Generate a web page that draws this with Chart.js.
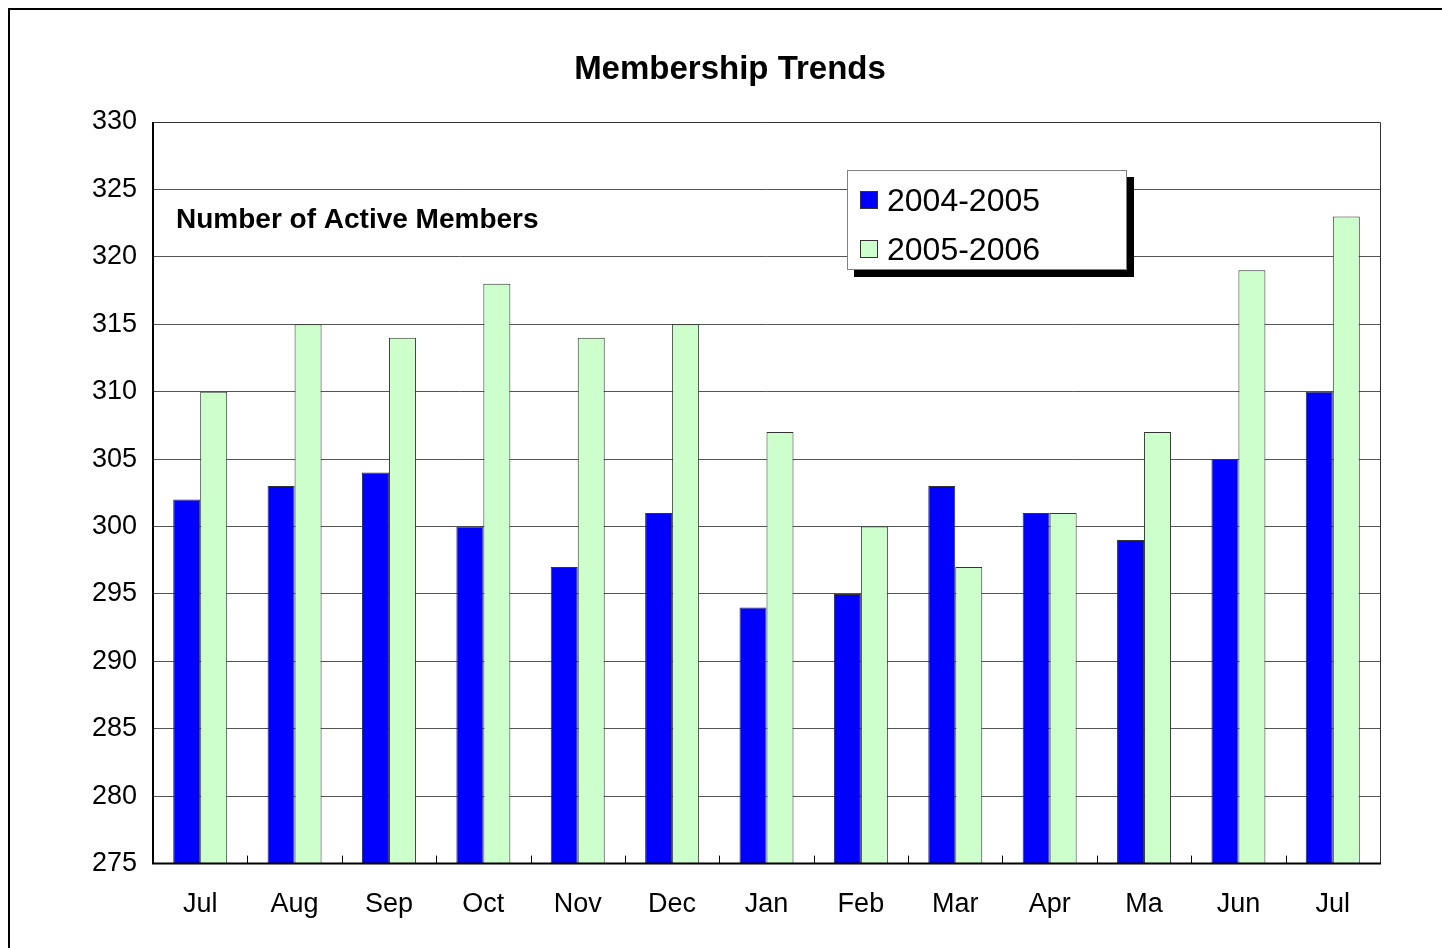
<!DOCTYPE html>
<html>
<head>
<meta charset="utf-8">
<title>Membership Trends</title>
<script src="https://cdn.jsdelivr.net/npm/chart.js@4/dist/chart.umd.min.js"></script>
<style>
  html, body { margin: 0; padding: 0; background: #fff; overflow: hidden; }
  #wrap { position: relative; width: 1442px; height: 948px; overflow: hidden; }
  #frame { position: absolute; left: 8px; top: 8px; width: 2000px; height: 2000px;
           border: 2px solid #000; pointer-events: none; }
  #box { position: absolute; left: 0; top: 0; width: 1460px; height: 948px; }
  #legend { position: absolute; left: 847px; top: 170px; width: 278px; height: 98px;
            background: #fff; border: 1px solid #808080; box-shadow: 7px 7px 0 #000;
            font-family: "Liberation Sans", Arial, sans-serif; font-size: 32px; color: #000; }
  #legend .row { position: absolute; left: 12px; height: 40px; line-height: 40px; white-space: nowrap; }
  #legend .sw { display: inline-block; width: 16px; height: 16px; border: 1px solid #333;
                vertical-align: middle; margin-right: 9px; position: relative; top: -3px; }
</style>
</head>
<body>
<div id="wrap">
  <div id="box"><canvas id="membersChart" width="1460" height="948"></canvas></div>
  <div id="legend"></div>
  <div id="frame"></div>
</div>
<script>
// month labels along the bottom (Jul 2004/05 through Jul 2005/06)
var months = ["Jul", "Aug", "Sep", "Oct", "Nov", "Dec", "Jan", "Feb", "Mar", "Apr", "Ma", "Jun", "Jul"];

// active members
var members0405 = [302, 303, 304, 300, 297, 301, 294, 295, 303, 301, 299, 305, 310];
var members0506 = [310, 315, 314, 318, 314, 315, 307, 300, 297, 301, 307, 319, 323];

var seriesNames = ["2004-2005", "2005-2006"];
var seriesColors = ["#0000ff", "#ccffcc"];

var yMin = 275, yMax = 330, yStep = 5;
var fontFamily = "'Liberation Sans', Arial, sans-serif";

// draws the plot frame, the small inward ticks on the x axis, the title and the inner caption
var framePlugin = {
  id: "framePlugin",
  afterDraw: function(chart) {
    var ctx = chart.ctx;
    var area = chart.chartArea;
    var xs = chart.scales.x;
    ctx.save();
    // top and right edges of the plot
    ctx.strokeStyle = "#333";
    ctx.lineWidth = 1;
    ctx.beginPath();
    ctx.moveTo(area.left, area.top + 0.5);
    ctx.lineTo(area.right + 0.5, area.top + 0.5);
    ctx.lineTo(area.right + 0.5, area.bottom);
    ctx.stroke();
    // left and bottom axis lines
    ctx.strokeStyle = "#000";
    ctx.lineWidth = 2;
    ctx.beginPath();
    ctx.moveTo(area.left, area.top);
    ctx.lineTo(area.left, area.bottom);
    ctx.lineTo(area.right + 1, area.bottom);
    ctx.stroke();
    // tick marks between the months, pointing up into the plot
    ctx.lineWidth = 1;
    ctx.beginPath();
    for (var i = 1; i < months.length; i++) {
      var x = Math.round((xs.getPixelForValue(i - 1) + xs.getPixelForValue(i)) / 2) + 0.5;
      ctx.moveTo(x, area.bottom);
      ctx.lineTo(x, area.bottom - 8);
    }
    ctx.stroke();
    // chart title
    ctx.fillStyle = "#000";
    ctx.textAlign = "center";
    ctx.textBaseline = "middle";
    ctx.font = "bold 33px " + fontFamily;
    ctx.fillText("Membership Trends", area.left + 577, area.top - 52);
    // caption inside the plot
    ctx.font = "bold 28px " + fontFamily;
    ctx.textAlign = "left";
    ctx.fillText("Number of Active Members", area.left + 23, area.top + 98);
    ctx.restore();
  }
};

var membersChart = new Chart(document.getElementById("membersChart"), {
  type: "bar",
  data: {
    labels: months,
    datasets: [{
      label: seriesNames[0],
      data: members0405,
      backgroundColor: seriesColors[0],
      borderColor: "#333",
      borderWidth: 1,
      borderSkipped: false
    }, {
      label: seriesNames[1],
      data: members0506,
      backgroundColor: seriesColors[1],
      borderColor: "#333",
      borderWidth: 1,
      borderSkipped: false
    }]
  },
  options: {
    responsive: false,
    animation: false,
    layout: { padding: { left: 10, right: 80, top: 122, bottom: 10 } },
    datasets: { bar: { categoryPercentage: 0.572, barPercentage: 1.0 } },
    scales: {
      x: {
        offset: true,
        grid: { display: false },
        border: { display: false },
        ticks: { color: "#000", font: { family: fontFamily, size: 27 }, padding: 17, maxRotation: 0 }
      },
      y: {
        min: yMin,
        max: yMax,
        afterFit: function(scale) { scale.width = 143; },
        grid: { color: "#555", lineWidth: 1, drawTicks: false },
        border: { display: false },
        ticks: { stepSize: yStep, color: "#000", font: { family: fontFamily, size: 27 }, padding: 16 }
      }
    },
    plugins: {
      legend: { display: false },
      tooltip: { enabled: false },
      title: { display: false }
    }
  },
  plugins: [framePlugin]
});

// legend box built from the chart's own datasets
var legendEl = document.getElementById("legend");
membersChart.data.datasets.forEach(function(ds, i) {
  var row = document.createElement("div");
  row.className = "row";
  row.style.top = (9 + i * 49) + "px";
  var sw = document.createElement("span");
  sw.className = "sw";
  sw.style.background = ds.backgroundColor;
  row.appendChild(sw);
  row.appendChild(document.createTextNode(ds.label));
  legendEl.appendChild(row);
});
</script>
</body>
</html>
